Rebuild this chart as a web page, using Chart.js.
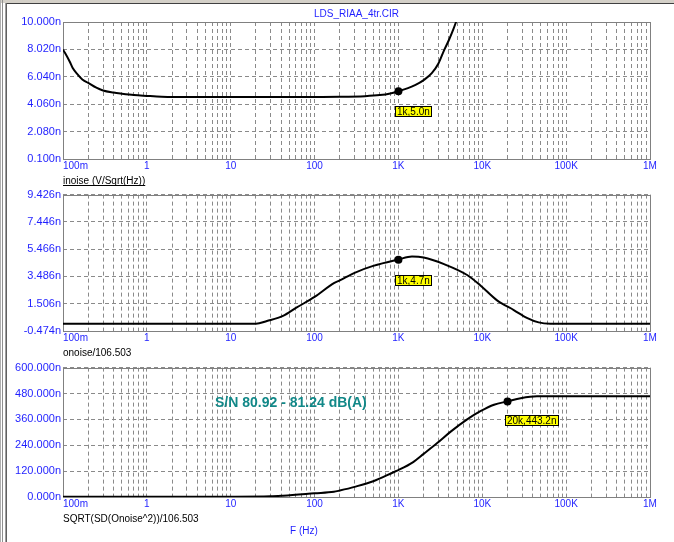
<!DOCTYPE html>
<html>
<head>
<meta charset="utf-8">
<script src="https://cdn.jsdelivr.net/npm/chart.js@4/dist/chart.umd.min.js"></script>
<style>
body { margin: 0; background: #fff; }
#wrap { position: relative; width: 674px; height: 542px; overflow: hidden; background: #fff; }
#wrap canvas { position: absolute; left: 0; }
.fr { position: absolute; }
</style>
</head>
<body>
<div id="wrap">
  <canvas id="c1" width="674" height="187" style="top:0px"></canvas>
  <canvas id="c2" width="674" height="173" style="top:186px"></canvas>
  <canvas id="c3" width="674" height="183" style="top:359px"></canvas>
  <div class="fr" style="left:0;top:0;width:674px;height:3px;background:#d4d0c8"></div>
  <div class="fr" style="left:7px;top:3px;width:667px;height:1px;background:#404040"></div>
  <div class="fr" style="left:0;top:0;width:1px;height:542px;background:#b0b0b0"></div>
  <div class="fr" style="left:2px;top:0;width:1px;height:542px;background:#909090"></div>
  <div class="fr" style="left:5px;top:3px;width:1px;height:539px;background:#a0a0a0"></div>
  <div class="fr" style="left:6px;top:3px;width:1px;height:539px;background:#606060"></div>
</div>
<script>
// x axis (Hz)
const xTickValues = [0.1, 1, 10, 100, 1000, 10000, 100000, 1000000];
const xTickLabels = ['100m', '1', '10', '100', '1K', '10K', '100K', '1M'];

// inoise (V/Sqrt(Hz)), values in n
const freq1 = [0.1, 0.12, 0.13, 0.15, 0.17, 0.2, 0.25, 0.3, 0.4, 0.5, 0.7, 1, 1.5, 2, 10, 100, 200, 400, 600, 800, 1000, 1300, 1600, 2000, 2500, 3000, 3500, 4000, 4500, 5000];
const inoise = [8.02, 7.15, 6.7, 6.2, 5.85, 5.6, 5.25, 5.05, 4.9, 4.82, 4.72, 4.66, 4.6, 4.58, 4.58, 4.58, 4.59, 4.64, 4.72, 4.84, 5.0, 5.22, 5.45, 5.8, 6.3, 7.0, 7.95, 8.7, 9.45, 10.2];
const yTicks1 = [0.1, 2.08, 4.06, 6.04, 8.02, 10.0];
const yLabels1 = ['0.100n', '2.080n', '4.060n', '6.040n', '8.020n', '10.000n'];

// onoise/106.503
const freq2 = [0.1, 20, 27, 42, 60, 100, 170, 200, 300, 500, 1000, 1450, 2000, 3500, 6600, 9500, 15000, 24000, 34000, 47000, 65000, 1000000];
const onoise = [0.05, 0.05, 0.25, 0.62, 1.2, 2.0, 3.0, 3.2, 3.75, 4.25, 4.72, 4.93, 4.86, 4.38, 3.59, 2.83, 1.75, 1.03, 0.48, 0.15, 0.06, 0.05];
const yTicks2 = [-0.474, 1.506, 3.486, 5.466, 7.446, 9.426];
const yLabels2 = ['-0.474n', '1.506n', '3.486n', '5.466n', '7.446n', '9.426n'];

// SQRT(SD(Onoise^2))/106.503
const freq3 = [0.1, 10, 30, 42, 100, 170, 200, 300, 500, 885, 1000, 1500, 2000, 2900, 4200, 6600, 9500, 13800, 20000, 28700, 45000, 1000000];
const onoiseSum = [1, 1.5, 3, 6, 17, 24, 30, 47, 73, 116, 125, 162, 200, 250, 303, 360, 398, 428, 443.2, 458, 467, 467];
const yTicks3 = [0, 120, 240, 360, 480, 600];
const yLabels3 = ['0.000n', '120.000n', '240.000n', '360.000n', '480.000n', '600.000n'];

// cursor markers
const markerFreq = [1000, 1000, 20000];
const markerVal = [5.0, 4.7, 443.2];
const markerText = ['1k,5.0n', '1k,4.7n', '20k,443.2n'];

const BLUE = '#1f1fff';
const TEAL = '#118888';
const FONT = 'Arial, "Liberation Sans", sans-serif';
Chart.defaults.font.family = FONT;

// grid lines: decades + 2..9 ; first tick 0.1, 1M not last (inner align)
let gridTicks = [xTickValues[0], xTickValues[xTickValues.length - 1]];
for (let d = 1; d < xTickValues.length - 1; d++) gridTicks.push(xTickValues[d]);
for (let d = 0; d < xTickValues.length - 1; d++) {
    for (let k = 2; k <= 9; k++) gridTicks.push(xTickValues[d] * k);
}

const decor = {
    id: 'decor',
    beforeDatasetsDraw(chart) {
        const a = chart.chartArea, ctx = chart.ctx;
        ctx.save();
        ctx.strokeStyle = '#808080';
        ctx.lineWidth = 1;
        ctx.strokeRect(Math.round(a.left) + 0.5, Math.round(a.top) + 0.5, Math.round(a.right - a.left), Math.round(a.bottom - a.top));
        ctx.restore();
    },
    afterDraw(chart, args, opts) {
        const ctx = chart.ctx, a = chart.chartArea;
        ctx.save();
        // yellow cursor label
        if (opts.tag) {
            const p = chart.getDatasetMeta(0).data[0];
            ctx.font = '10px ' + FONT;
            const w = Math.ceil(ctx.measureText(opts.tag).width) + 4;
            const bx = Math.round(p.x) - 3, by = Math.round(p.y) + opts.tagDy;
            ctx.fillStyle = '#ffff00';
            ctx.fillRect(bx, by, w, 11);
            ctx.strokeStyle = '#000';
            ctx.lineWidth = 1;
            ctx.strokeRect(bx + 0.5, by + 0.5, w - 1, 10);
            ctx.fillStyle = '#000';
            ctx.textBaseline = 'middle';
            ctx.textAlign = 'left';
            ctx.fillText(opts.tag, bx + 2, by + 6);
        }
        (opts.texts || []).forEach(t => {
            ctx.font = t.font + ' ' + FONT;
            ctx.fillStyle = t.color;
            ctx.textBaseline = 'middle';
            ctx.textAlign = t.align || 'left';
            const x = t.x === 'center' ? (a.left + a.right) / 2 : t.x;
            ctx.fillText(t.text, x, t.y);
        });
        if (opts.underline) {
            const sx = chart.scales.x;
            const tt = sx.options.title;
            ctx.font = '10px ' + FONT;
            const w = ctx.measureText(tt.text).width;
            const y = Math.round(sx.bottom - tt.padding.bottom - 6 + 4) + 0.5;
            ctx.strokeStyle = '#000';
            ctx.lineWidth = 1;
            ctx.beginPath();
            ctx.moveTo(a.left, y);
            ctx.lineTo(a.left + w, y);
            ctx.stroke();
        }
        ctx.restore();
    }
};

function makePanel(id, p) {
    const curve = p.freq.map((f, i) => ({ x: f, y: p.vals[i] }));
    const xH = p.xHeight, yT = p.yTicks, yL = p.yLabels;
    return new Chart(document.getElementById(id), {
        type: 'line',
        data: {
            datasets: [{
                data: [{ x: markerFreq[p.m], y: markerVal[p.m] }],
                showLine: false,
                pointRadius: 4,
                pointBackgroundColor: '#000',
                pointBorderColor: '#000',
                pointBorderWidth: 0
            }, {
                data: curve,
                borderColor: '#000',
                borderWidth: 2,
                pointRadius: 0,
                cubicInterpolationMode: 'monotone'
            }]
        },
        options: {
            responsive: false,
            animation: false,
            layout: { padding: { top: p.padTop, right: 24, bottom: 0, left: 0 } },
            plugins: {
                legend: { display: false },
                tooltip: { enabled: false },
                decor: { tag: markerText[p.m], tagDy: p.tagDy, texts: p.texts, underline: p.underline }
            },
            scales: {
                x: {
                    type: 'logarithmic',
                    min: xTickValues[0],
                    max: xTickValues[xTickValues.length - 1],
                    afterBuildTicks: s => { s.ticks = gridTicks.map(v => ({ value: v })); },
                    afterFit: s => { s.height = xH; },
                    grid: { color: '#8a8a8a', lineWidth: 1, drawTicks: false },
                    border: { display: false, dash: [4, 3] },
                    ticks: {
                        autoSkip: false, maxRotation: 0, minRotation: 0,
                        align: 'inner', padding: 1, color: BLUE,
                        font: { size: 10 },
                        callback: v => {
                            const i = xTickValues.indexOf(v);
                            return i >= 0 ? xTickLabels[i] : '';
                        }
                    },
                    title: {
                        display: true, text: p.title, align: 'start', color: '#000',
                        font: { size: 10 }, padding: { top: 0, bottom: p.titlePad }
                    }
                },
                y: {
                    type: 'linear',
                    min: yT[0],
                    max: yT[yT.length - 1],
                    afterBuildTicks: s => { s.ticks = yT.map(v => ({ value: v })); },
                    afterFit: s => { s.width = 63; },
                    grid: { color: '#8a8a8a', lineWidth: 1, drawTicks: false },
                    border: { display: false, dash: [4, 3] },
                    ticks: {
                        padding: 2, color: BLUE, font: { size: 11 },
                        callback: (v, i) => yL[i]
                    }
                }
            }
        },
        plugins: [decor]
    });
}

makePanel('c1', {
    freq: freq1, vals: inoise, yTicks: yTicks1, yLabels: yLabels1, m: 0,
    padTop: 22, xHeight: 28, title: 'inoise (V/Sqrt(Hz))', titlePad: 0,
    underline: true, tagDy: 15,
    texts: [{ text: 'LDS_RIAA_4tr.CIR', x: 'center', y: 14.5, align: 'center', color: BLUE, font: '10px' }]
});

makePanel('c2', {
    freq: freq2, vals: onoise, yTicks: yTicks2, yLabels: yLabels2, m: 1,
    padTop: 7, xHeight: 28, title: 'onoise/106.503', titlePad: 0,
    underline: false, tagDy: 15, texts: []
});

makePanel('c3', {
    freq: freq3, vals: onoiseSum, yTicks: yTicks3, yLabels: yLabels3, m: 2,
    padTop: 7, xHeight: 45, title: 'SQRT(SD(Onoise^2))/106.503', titlePad: 17,
    underline: false, tagDy: 14,
    texts: [
        { text: 'S/N 80.92 - 81.24 dB(A)', x: 215, y: 44, color: TEAL, font: 'bold 14px' },
        { text: 'F (Hz)', x: 290, y: 172, color: BLUE, font: '10px' }
    ]
});
</script>
</body>
</html>
